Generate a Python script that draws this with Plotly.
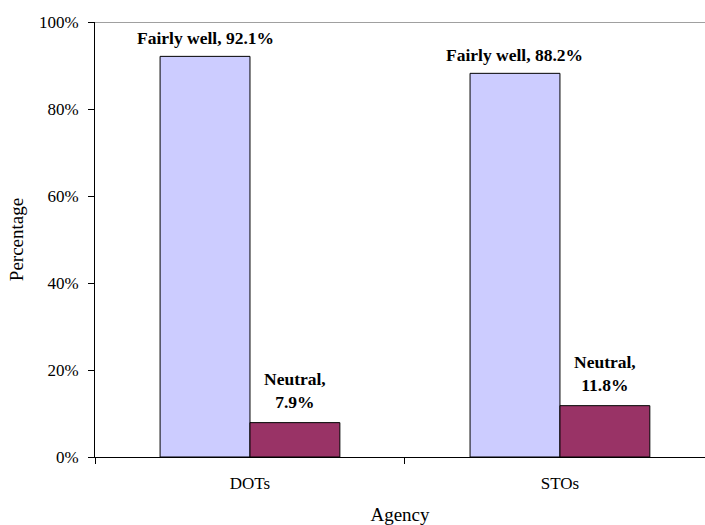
import plotly.graph_objects as go

# Survey responses by agency (percent of respondents)
agencies = ["DOTs", "STOs"]
fairly_well = [92.1, 88.2]
neutral = [7.9, 11.8]
y_ticks = [0, 20, 40, 60, 80, 100]
y_tick_labels = ["0%", "20%", "40%", "60%", "80%", "100%"]

serif = "Liberation Serif, Times New Roman, serif"

# Layout geometry
fig_w, fig_h = 705, 525
m_l, m_r, m_t, m_b = 95, 0, 22, 68
x_range = [-0.5, 1.468]
bargap = 0.42

fig = go.Figure()
fig.add_trace(go.Bar(
    name="Fairly well",
    x=agencies,
    y=fairly_well,
    marker=dict(color="#CCCCFF", line=dict(color="black", width=1)),
))
fig.add_trace(go.Bar(
    name="Neutral",
    x=agencies,
    y=neutral,
    marker=dict(color="#993366", line=dict(color="black", width=1)),
))

# Value labels above each bar, offset horizontally to the bar's slot in its group
category_px = (fig_w - m_l - m_r) / (x_range[1] - x_range[0])
bar_px = (1 - bargap) / 2 * category_px
label_font = dict(family=serif, size=17.5, color="black")
annotations = []
for agency, fw, nt in zip(agencies, fairly_well, neutral):
    annotations.append(dict(
        x=agency, y=fw, xref="x", yref="y",
        text=f"<b>Fairly well, {fw:.1f}%</b>",
        showarrow=False, yanchor="bottom", xanchor="center",
        xshift=-bar_px / 2, yshift=6, font=label_font,
    ))
    annotations.append(dict(
        x=agency, y=nt, xref="x", yref="y",
        text=f"<b>Neutral,<br>{nt:.1f}%</b>",
        showarrow=False, yanchor="bottom", xanchor="center",
        xshift=bar_px / 2, yshift=9, font=label_font,
    ))

fig.update_layout(
    width=fig_w,
    height=fig_h,
    margin=dict(l=m_l, r=m_r, t=m_t, b=m_b),
    paper_bgcolor="white",
    plot_bgcolor="white",
    barmode="group",
    bargap=bargap,
    bargroupgap=0,
    showlegend=False,
    font=dict(family=serif, size=17, color="black"),
    annotations=annotations,
    xaxis=dict(
        range=x_range,
        showline=True,
        linecolor="black",
        linewidth=1,
        ticks="outside",
        tickson="boundaries",
        ticklen=6,
        tickcolor="black",
        showgrid=False,
        ticklabelstandoff=11,
        tickfont=dict(family=serif, size=17),
        title=dict(text="Agency", font=dict(family=serif, size=19), standoff=17),
    ),
    yaxis=dict(
        range=[0, 100],
        tickvals=y_ticks,
        ticktext=y_tick_labels,
        showline=True,
        linecolor="black",
        linewidth=1,
        ticks="outside",
        ticklen=6,
        tickcolor="black",
        showgrid=False,
        zeroline=False,
        ticklabelstandoff=6,
        tickfont=dict(family=serif, size=17),
        title=dict(text="Percentage", font=dict(family=serif, size=19), standoff=10),
    ),
    shapes=[dict(
        type="line", xref="paper", yref="y",
        x0=0, x1=1, y0=100, y1=100,
        line=dict(color="#808080", width=1.5),
    )],
)

fig.write_html("out.html")
